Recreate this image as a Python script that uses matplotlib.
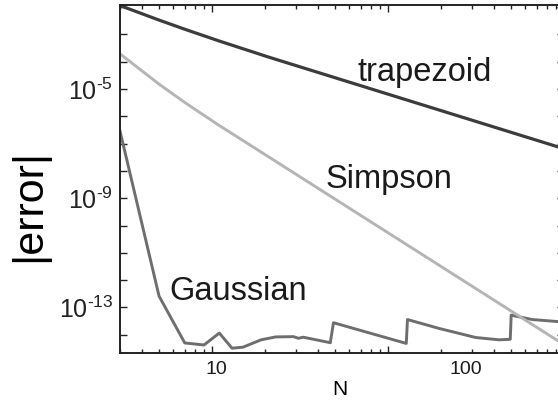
import numpy as np
import matplotlib
matplotlib.use("Agg")
import matplotlib.pyplot as plt
from matplotlib.ticker import FixedLocator, FuncFormatter, LogLocator, NullLocator, NullFormatter

plt.rcParams['font.family'] = ['Liberation Sans', 'DejaVu Sans']
plt.rcParams['mathtext.fontset'] = 'custom'
plt.rcParams['mathtext.rm'] = 'Liberation Sans'
plt.rcParams['mathtext.it'] = 'Liberation Sans:italic'

# values (N, |error|)
trap_n = [3, 5, 7, 11, 21, 41, 81, 161, 321, 641, 1001]
trap_err = [1.148e-2, 3.37e-3, 1.556e-3, 5.75e-4, 1.48e-4, 3.88e-5, 9.93e-6,
            2.51e-6, 6.32e-7, 1.585e-7, 6.5e-8]

simp_n = [3, 5, 7, 11, 21, 41, 81, 161, 321, 641, 1001]
simp_err = [1.95e-4, 1.517e-5, 3.23e-6, 4.62e-7, 3.27e-8, 2.10e-9, 1.29e-10,
            7.73e-12, 4.56e-13, 2.67e-14, 4.31e-15]

gauss_n = [3, 5, 7, 9, 11, 13, 15, 19, 23, 29, 31, 33, 47, 49, 105, 127, 129,
           195, 315, 427, 495, 501, 659, 1001]
gauss_err = [2.9e-7, 2.6e-13, 5.0e-15, 4.2e-15, 1.15e-14, 3.2e-15, 3.5e-15, 6.5e-15,
             8.3e-15, 8.5e-15, 7.4e-15, 8.1e-15, 5.1e-15, 2.75e-14, 6.8e-15, 4.8e-15,
             3.6e-14, 1.7e-14, 7.9e-15, 6.5e-15, 6.8e-15, 5.2e-14, 3.6e-14, 2.9e-14]

x_major = [10, 100]
x_labels = ['10', '100']
y_labelled = [-5, -9, -13]

fig = plt.figure(figsize=(5.58, 4), dpi=100)
ax = fig.add_axes([120 / 558, 47 / 400, 444 / 558, 348 / 400])

ax.plot(trap_n, trap_err, color='#3c3c3c', lw=2.3)
ax.plot(gauss_n, gauss_err, color='#6e6e6e', lw=2.1)
ax.plot(simp_n, simp_err, color='#b5b5b5', lw=2.1)

ax.set_xscale('log')
ax.set_yscale('log')
ax.set_xlim(3, 1000)
ax.set_ylim(10 ** -14.67, 10 ** -1.92)

ax.xaxis.set_major_locator(FixedLocator(x_major))
ax.xaxis.set_minor_locator(LogLocator(base=10, subs=np.arange(2, 10)))
ax.xaxis.set_major_formatter(NullFormatter())
ax.xaxis.set_minor_formatter(NullFormatter())

ax.yaxis.set_major_locator(FixedLocator([10.0 ** k for k in range(-14, -1)]))
ax.yaxis.set_minor_locator(NullLocator())
HYPHEN = '\u2010'


def ylab(v, p):
    k = int(round(np.log10(v)))
    return '$10^{' + HYPHEN + '%d}$' % -k if k in y_labelled else ''


ax.yaxis.set_major_formatter(FuncFormatter(ylab))

ax.tick_params(which='both', direction='in', top=True, right=True, width=1, colors='#222222')
ax.tick_params(which='major', length=5)
ax.tick_params(which='minor', length=3)
ax.tick_params(axis='y', labelsize=18, pad=5)
for s in ax.spines.values():
    s.set_linewidth(1.4)
    s.set_color('#222222')

# x tick labels: the "100" sits well to the right of its tick in the reference
xform = ax.get_xaxis_transform()
offsets = [4, 78]
for v, lab, dx in zip(x_major, x_labels, offsets):
    ax.annotate(lab, xy=(v, 0), xycoords=xform, xytext=(dx, -16),
                textcoords='offset pixels', ha='center', va='center',
                fontsize=14, color='#1a1a1a', annotation_clip=False)

ax.set_xlabel('N', fontsize=15, va='center')
ax.xaxis.set_label_coords(0.495, -0.105)
ax.set_ylabel('|error|', fontsize=31, va='center')
ax.yaxis.set_label_coords(-0.205, 0.425)

fig.text(357 / 558, 1 - 81 / 400, 'trapezoid', fontsize=23.5, va='baseline', color='#1a1a1a')
fig.text(326 / 558, 1 - 188 / 400, 'Simpson', fontsize=23.5, va='baseline', color='#1a1a1a')
fig.text(169 / 558, 1 - 300 / 400, 'Gaussian', fontsize=23.5, va='baseline', color='#1a1a1a')

fig.savefig('out.png', dpi=100)
